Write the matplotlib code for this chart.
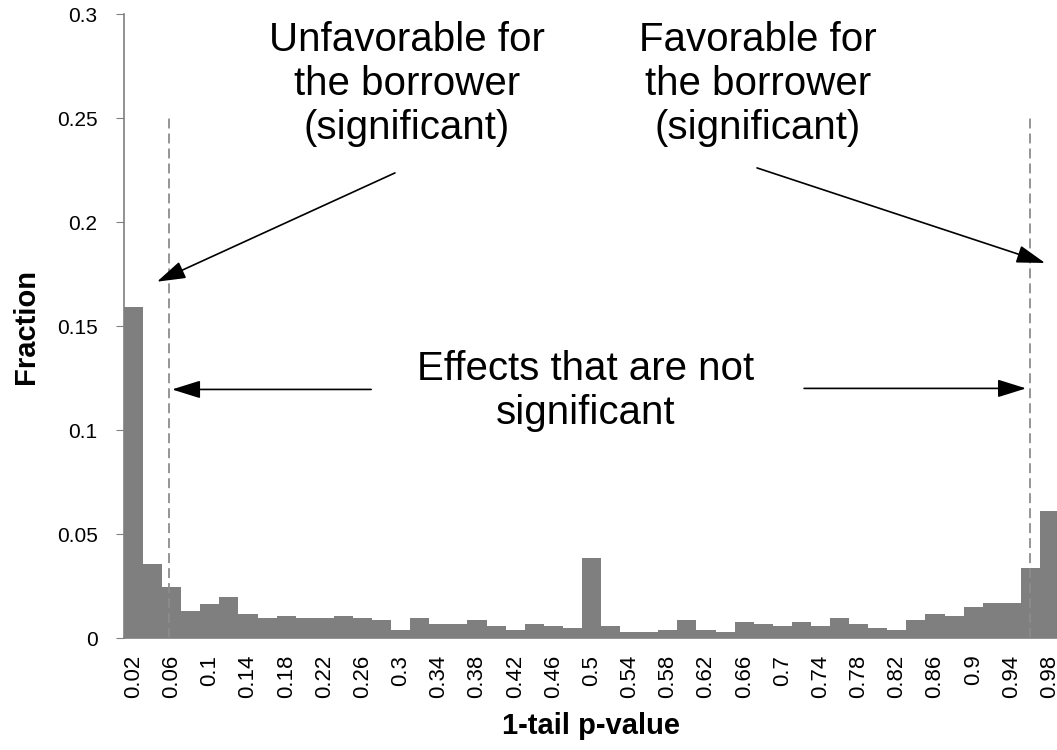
import matplotlib.pyplot as plt

plt.rcParams['font.family'] = ['Liberation Sans', 'DejaVu Sans']

# bins of the 1-tail p-value (bar centres)
p_bins = [0.02, 0.04, 0.06, 0.08, 0.10, 0.12, 0.14, 0.16, 0.18, 0.20,
          0.22, 0.24, 0.26, 0.28, 0.30, 0.32, 0.34, 0.36, 0.38, 0.40,
          0.42, 0.44, 0.46, 0.48, 0.50, 0.52, 0.54, 0.56, 0.58, 0.60,
          0.62, 0.64, 0.66, 0.68, 0.70, 0.72, 0.74, 0.76, 0.78, 0.80,
          0.82, 0.84, 0.86, 0.88, 0.90, 0.92, 0.94, 0.96, 0.98]
fractions = [0.159, 0.0354, 0.0244, 0.0131, 0.0162, 0.0197, 0.0115, 0.0096, 0.0106, 0.0096,
             0.0096, 0.0106, 0.0096, 0.0085, 0.0038, 0.0096, 0.0066, 0.0066, 0.0085, 0.0056,
             0.0038, 0.0066, 0.0056, 0.0047, 0.0383, 0.0056, 0.0029, 0.0029, 0.0038, 0.0085,
             0.0038, 0.0029, 0.0075, 0.0066, 0.0056, 0.0075, 0.0056, 0.0095, 0.0066, 0.0047,
             0.0038, 0.0085, 0.0114, 0.0104, 0.0151, 0.0170, 0.0170, 0.0335, 0.0612]
tick_bins = p_bins[::2]
threshold_lines = [0.0575, 0.9594]

fig = plt.figure(figsize=(10.57, 7.5), dpi=100)
ax = fig.add_axes([124 / 1057, 112 / 750, 935 / 1057, 624 / 750])

ax.bar(p_bins, fractions, width=0.02, color='#7f7f7f', linewidth=0)
ax.vlines(threshold_lines, 0, 0.25, colors='#8c8c8c', linewidth=1.3,
          linestyles=(0, (5.5, 2.8)))

ax.set_xlim(0.01, 0.99)
ax.set_ylim(0, 0.3)
ax.set_yticks([0, 0.05, 0.1, 0.15, 0.2, 0.25, 0.3])
ax.set_yticklabels(['0', '0.05', '0.1', '0.15', '0.2', '0.25', '0.3'], fontsize=15)
ax.set_xticks(tick_bins)
ax.set_xticklabels([f'{v:g}' for v in tick_bins], rotation=90, fontsize=16)
ax.tick_params(axis='x', length=0, pad=12)
ax.tick_params(axis='y', length=6, color='#808080', pad=13)

for side in ['top', 'right']:
    ax.spines[side].set_visible(False)
for side in ['left', 'bottom']:
    ax.spines[side].set_color('#808080')
    ax.spines[side].set_linewidth(1.2)

ax.set_xlabel('1-tail p-value', fontsize=21, fontweight='bold', labelpad=10)
ax.set_ylabel('Fraction', fontsize=21, fontweight='bold', labelpad=12)

txt = dict(fontsize=29, ha='center', va='top', linespacing=1.2)
ax.text(0.3066, 0.2965, 'Unfavorable for\nthe borrower\n(significant)', **txt)
ax.text(0.6746, 0.2965, 'Favorable for\nthe borrower\n(significant)', **txt)
ax.text(0.4943, 0.1385, 'Effects that are not\nsignificant', **txt)

arrow = dict(arrowstyle='-|>,head_length=0.8,head_width=0.25',
             mutation_scale=22, color='black', lw=1.2, shrinkA=0, shrinkB=0)
ax.annotate('', xy=(0.0446, 0.1713), xytext=(0.294, 0.2236), arrowprops=arrow)
ax.annotate('', xy=(0.9754, 0.1803), xytext=(0.6735, 0.226), arrowprops=arrow)
ax.annotate('', xy=(0.0603, 0.1195), xytext=(0.269, 0.1195), arrowprops=arrow)
ax.annotate('', xy=(0.9555, 0.1200), xytext=(0.7228, 0.1200), arrowprops=arrow)

fig.savefig('out.png', dpi=100)
